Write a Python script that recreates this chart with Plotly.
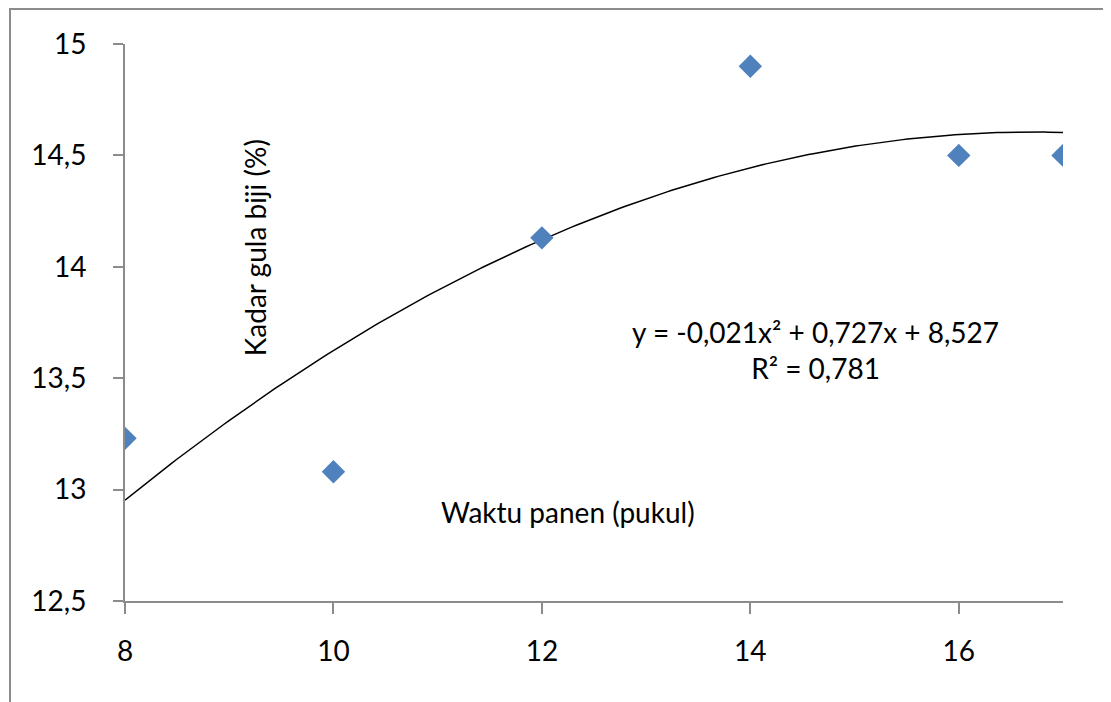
import numpy as np
import plotly.graph_objects as go

# Data
waktu = [8, 10, 12, 14, 16, 17]
kadar = [13.23, 13.08, 14.13, 14.9, 14.5, 14.5]
x_ticks = [8, 10, 12, 14, 16]
x_labels = ["8", "10", "12", "14", "16"]
y_ticks = [12.5, 13, 13.5, 14, 14.5, 15]
y_labels = ["12,5", "13", "13,5", "14", "14,5", "15"]

# Polynomial (order 2) trendline fitted to data
coef = np.polyfit(waktu, kadar, 2)
xs = np.linspace(min(waktu), max(waktu), 200)
ys = np.polyval(coef, xs)

FONT = "Lato"
AX = "#8c8c8c"

fig = go.Figure()
fig.add_trace(go.Scatter(x=xs, y=ys, mode="lines",
                         line=dict(color="black", width=1.5),
                         hoverinfo="skip", showlegend=False))
fig.add_trace(go.Scatter(x=waktu, y=kadar, mode="markers",
                         marker=dict(symbol="diamond", size=18, color="#4F81BD"),
                         showlegend=False))

fig.update_layout(
    width=1103, height=694,
    margin=dict(l=117, r=48, t=36, b=101),
    paper_bgcolor="white", plot_bgcolor="white",
    font=dict(family=FONT, size=28, color="black"),
    xaxis=dict(range=[8, 17], tickmode="array", tickvals=x_ticks, ticktext=x_labels,
               showgrid=False, zeroline=False, showline=True, linecolor=AX, linewidth=2,
               ticks="outside", ticklen=11, tickcolor=AX, tickwidth=2,
               ticklabelstandoff=13),
    yaxis=dict(range=[12.5, 15], tickmode="array", tickvals=y_ticks, ticktext=y_labels,
               showgrid=False, zeroline=False, showline=True, linecolor=AX, linewidth=2,
               ticks="outside", ticklen=10, tickcolor=AX, tickwidth=2,
               ticklabelstandoff=21),
    shapes=[dict(type="rect", xref="paper", yref="paper",
                 x0=-115 / 938, x1=1.2, y0=-0.5, y1=1.0 + 35 / 557,
                 line=dict(color=AX, width=2), fillcolor="rgba(0,0,0,0)", layer="below")],
    annotations=[
        dict(text="Kadar gula biji (%)", x=9.25, y=14.085, xref="x", yref="y",
             textangle=-90, showarrow=False),
        dict(text="Waktu panen (pukul)", x=12.25, y=12.9, xref="x", yref="y",
             showarrow=False),
        dict(text="y = -0,021x² + 0,727x + 8,527<br>R² = 0,781", x=14.63, y=13.625,
             xref="x", yref="y", showarrow=False, align="center"),
    ],
)

fig.write_html("out.html")
